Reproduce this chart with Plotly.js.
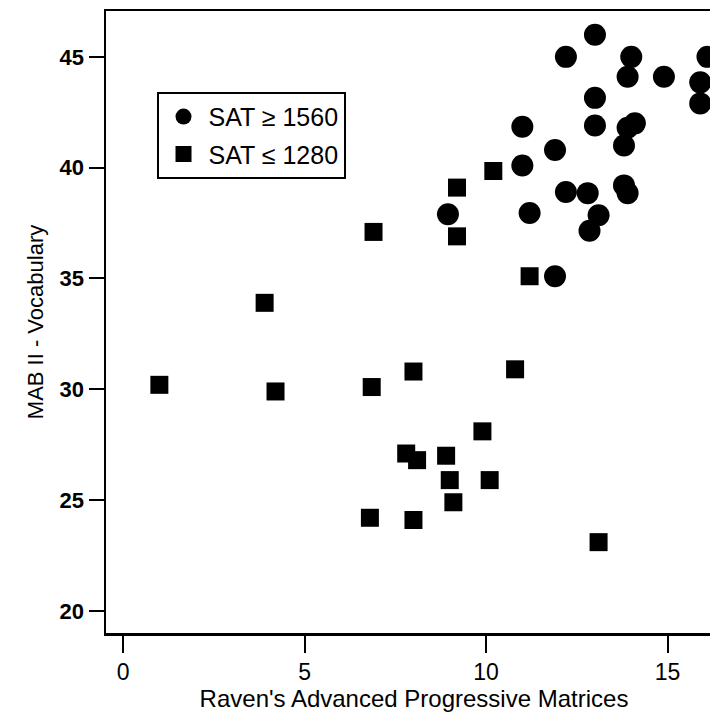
<!DOCTYPE html>
<html>
<head>
<meta charset="utf-8">
<script src="https://cdn.plot.ly/plotly-3.0.1.min.js"></script>
<style>
html,body{margin:0;padding:0;overflow:hidden;background:#fff;}
#chart{width:730px;height:721px;}
</style>
</head>
<body>
<div id="chart"></div>
<script>
// SAT >= 1560 group (circles)
const highRaven = [13.0, 12.2, 14.0, 13.9, 14.9, 16.1, 15.9, 15.9, 13.0, 13.0, 14.1, 13.9, 13.8, 11.0, 11.9, 11.0, 12.2, 12.8, 13.8, 13.9, 8.95, 11.2, 13.1, 12.85, 11.9];
const highVocab = [46.0, 45.0, 45.0, 44.1, 44.1, 45.0, 43.85, 42.9, 43.15, 41.9, 42.0, 41.8, 41.0, 41.85, 40.8, 40.1, 38.9, 38.85, 39.2, 38.85, 37.9, 37.95, 37.85, 37.15, 35.1];

// SAT <= 1280 group (squares)
const lowRaven = [1.0, 3.9, 4.2, 6.85, 8.0, 10.8, 9.9, 7.8, 8.1, 8.9, 9.0, 10.1, 9.1, 6.8, 8.0, 13.1, 6.9, 9.2, 9.2, 10.2, 11.2];
const lowVocab = [30.2, 33.9, 29.9, 30.1, 30.8, 30.9, 28.1, 27.1, 26.8, 27.0, 25.9, 25.9, 24.9, 24.2, 24.1, 23.1, 37.1, 39.1, 36.9, 39.85, 35.1];

const xTicks = [0, 5, 10, 15];
const yTicks = [20, 25, 30, 35, 40, 45];

const FONT = '"Liberation Sans", Arial, sans-serif';

const traces = [
  {
    x: highRaven, y: highVocab, type: 'scatter', mode: 'markers',
    name: 'SAT ≥ 1560', legendgroup: 'a',
    marker: {symbol: 'circle', size: 22, color: '#000'},
    cliponaxis: true
  },
  {
    x: lowRaven, y: lowVocab, type: 'scatter', mode: 'markers',
    name: 'SAT ≤ 1280', legendgroup: 'b',
    marker: {symbol: 'square', size: 18, color: '#000'},
    cliponaxis: true
  }
];

const layout = {
  width: 730, height: 721,
  margin: {l: 106, r: 8, t: 11, b: 88},
  paper_bgcolor: '#fff', plot_bgcolor: '#fff',
  showlegend: true,
  legend: {
    x: 0.082, y: 0.87, xanchor: 'left', yanchor: 'top',
    bordercolor: '#000', borderwidth: 2, bgcolor: '#fff',
    font: {family: FONT, size: 25, color: '#000'},
    tracegroupgap: 2, itemwidth: 40
  },
  xaxis: {
    range: [-0.47, 16.5],
    tickvals: xTicks, ticktext: xTicks.map(String),
    ticks: 'outside', ticklen: 17, tickwidth: 2, tickcolor: '#000',
    showline: true, linecolor: '#000', linewidth: 2.5, mirror: true,
    showgrid: false, zeroline: false,
    tickfont: {family: FONT, size: 23, color: '#000'},
    title: {text: "Raven's Advanced Progressive Matrices", font: {family: FONT, size: 24, color: '#000'}, standoff: 6},
    automargin: false
  },
  yaxis: {
    range: [19.0, 47.07],
    tickvals: yTicks, ticktext: yTicks.map(v => '<b>' + v + '</b>'),
    ticks: 'outside', ticklen: 15, tickwidth: 2, tickcolor: '#000',
    showline: true, linecolor: '#000', linewidth: 2.5, mirror: true,
    showgrid: false, zeroline: false,
    tickfont: {family: FONT, size: 22, color: '#000'},
    title: {text: 'MAB II - Vocabulary', font: {family: FONT, size: 22, color: '#000'}, standoff: 10},
    automargin: false
  }
};

Plotly.newPlot('chart', traces, layout, {displayModeBar: false, staticPlot: true});
</script>
</body>
</html>
